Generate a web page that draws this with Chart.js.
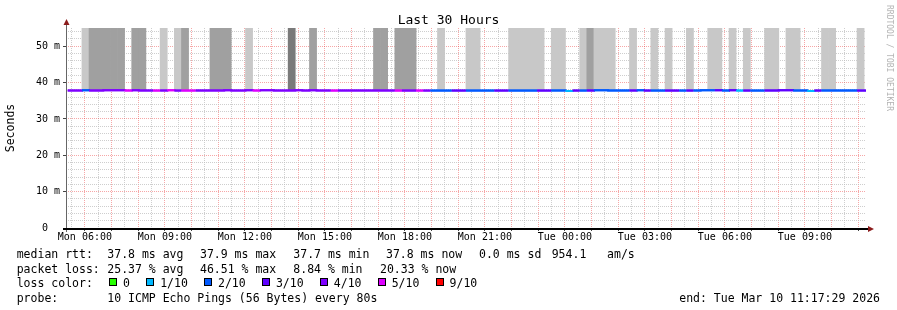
<!DOCTYPE html>
<html>
<head>
<meta charset="utf-8">
<script src="https://cdn.jsdelivr.net/npm/chart.js@4/dist/chart.umd.min.js"></script>
<style>
  html, body { margin: 0; padding: 0; background: #fff; }
  #wrap { position: relative; width: 897px; height: 310px; overflow: hidden;
          font-family: 'DejaVu Sans Mono', monospace; color: #000; }
  canvas { position: absolute; left: 0; top: 0; }
  #title { position: absolute; left: 0; top: 11.5px; width: 897px; text-align: center;
           font-size: 13px; line-height: 16px; white-space: pre; }
  #wm { position: absolute; left: 893px; top: 5px; transform: rotate(90deg); transform-origin: 0 0;
        font-size: 8px; line-height: 8px; color: #b4b4b4; white-space: pre; }
  .lg { position: absolute; font-size: 11.5px; line-height: 14px; white-space: pre; }
  .lc { position: absolute; display: flex; align-items: flex-start; }
  .lc .box { box-sizing: border-box; width: 8px; height: 8px; border: 1px solid #000;
             margin-top: 2.2px; margin-right: 6px; }
  .lc .lab { font-size: 11.5px; line-height: 14px; white-space: pre; margin-right: 16.2px; }
</style>
</head>
<body>
<div id="wrap">
  <canvas id="c" width="897" height="310"></canvas>
  <div id="title"></div>
  <div id="wm"></div>
</div>
<script>
// ---------------- data ----------------
const TITLE = 'Last 30 Hours';
const Y_TITLE = 'Seconds';
const WATERMARK = 'RRDTOOL / TOBI OETIKER';

// time axis (minutes since Mon 00:00)
const endMinute = (24 + 11) * 60 + 17 + 29 / 60;   // Tue 11:17:29
const spanMinutes = 30 * 60;                          // last 30 hours
const xTickHours  = [6, 9, 12, 15, 18, 21, 24, 27, 30, 33];
const xTickLabels = ['Mon 06:00', 'Mon 09:00', 'Mon 12:00', 'Mon 15:00', 'Mon 18:00',
                     'Mon 21:00', 'Tue 00:00', 'Tue 03:00', 'Tue 06:00', 'Tue 09:00'];

// y axis (ms)
const yMax = 55;
const yTickValues = [0, 10, 20, 30, 40, 50];
const yTickLabels = ['0  ', '10 m', '20 m', '30 m', '40 m', '50 m'];

// samples: 16-minute consolidated steps
const firstSampleMinute = 321.3;
const sampleMinutes = 16;

// median RTT per sample (ms)
const medianRtt = [
  37.8,37.8,37.9,37.8,37.8,37.9,37.9,37.9,37.8,37.9,
  37.8,37.8,37.8,37.8,37.9,37.8,37.8,37.8,37.8,37.8,
  37.8,37.8,37.9,37.8,37.8,37.9,37.8,37.9,37.9,37.8,
  37.8,37.8,37.9,37.8,37.9,37.8,37.8,37.8,37.8,37.8,
  37.8,37.8,37.8,37.8,37.8,37.8,37.8,37.8,37.8,37.8,
  37.8,37.8,37.8,37.8,37.8,37.8,37.8,37.8,37.8,37.8,
  37.8,37.8,37.8,37.8,37.8,37.8,37.8,37.8,37.8,37.8,
  37.7,37.8,37.8,37.8,37.9,37.9,37.8,37.8,37.8,37.8,
  37.9,37.8,37.8,37.8,37.8,37.8,37.8,37.8,37.8,37.9,
  37.9,37.9,37.8,37.9,37.8,37.8,37.8,37.8,37.8,37.8,
  37.9,37.9,37.8,37.8,37.7,37.8,37.8,37.8,37.8,37.8,
  37.8,37.8,37.8
];

// smoke density per sample: 0 none, 1 light, 2 medium, 3 dark
const smokeShade = [
  0,0,1,2,2,2,2,2,0,2,
  2,0,0,1,0,1,2,0,0,0,
  2,2,2,0,0,1,0,0,0,0,
  0,3,0,0,2,0,0,0,0,0,
  0,0,0,2,2,0,2,2,2,0,
  0,0,1,0,0,0,1,1,0,0,
  0,0,1,1,1,1,1,0,1,1,
  0,0,1,2,1,1,1,0,0,1,
  0,0,1,0,1,0,0,1,0,0,
  1,1,0,1,0,1,0,0,1,1,
  0,1,1,0,0,0,1,1,0,0,
  0,1,0
];

// loss level per sample (index into lossLabels / lossColors)
const lossLevel = [
  4,4,2,4,4,4,4,4,5,4,
  4,4,5,4,5,4,5,5,4,4,
  4,4,4,4,4,4,5,4,4,4,
  4,4,4,4,4,4,4,5,4,4,
  4,4,4,4,4,4,5,4,4,5,
  4,2,2,2,3,3,2,2,2,2,
  3,3,2,2,2,2,3,3,2,2,
  1,3,2,3,2,2,2,2,2,3,
  2,3,2,2,3,3,2,3,2,2,
  2,3,2,3,1,3,2,2,3,3,
  3,3,2,2,1,3,2,2,2,2,
  2,3,3
];

const lossLabels = ['0', '1/10', '2/10', '3/10', '4/10', '5/10', '9/10'];
const lossColors = ['#26ff00', '#00b8ff', '#0059ff', '#5e00ff', '#7e00ff', '#dd00ff', '#ff0000'];
const smokeColors = ['rgba(0,0,0,0)', '#c8c8c8', '#a0a0a0', '#7a7a7a'];

const statsRtt  = ['median rtt:', '37.8 ms avg', '37.9 ms max', '37.7 ms min', '37.8 ms now', '0.0 ms sd', '954.1   am/s'];
const statsLoss = ['packet loss:', '25.37 % avg', '46.51 % max', '8.84 % min', '20.33 % now'];
const lossColorTitle = 'loss color:';
const probeText = ['probe:', '10 ICMP Echo Pings (56 Bytes) every 80s'];
const endText = 'end: Tue Mar 10 11:17:29 2026';

// ---------------- layout ----------------
const FONT = "'DejaVu Sans Mono', monospace";
const startMinute = endMinute - spanMinutes;
const rowTops = [247.3, 261.8, 276.3, 290.8];
const rttCols = [16.7, 107.3, 200, 293.3, 386, 479, 551.7];
const lossCols = [16.7, 107.3, 200, 293.3, 380];
const probeCols = [16.7, 107.3];

const wrap = document.getElementById('wrap');
document.getElementById('title').textContent = TITLE;
document.getElementById('wm').textContent = WATERMARK;

function addText(txt, left, top, extra) {
  const d = document.createElement('div');
  d.className = 'lg';
  d.textContent = txt;
  d.style.left = left + 'px';
  d.style.top = top + 'px';
  if (extra) Object.assign(d.style, extra);
  wrap.appendChild(d);
  return d;
}
statsRtt.forEach((t, i) => addText(t, rttCols[i], rowTops[0]));
statsLoss.forEach((t, i) => addText(t, lossCols[i], rowTops[1]));
addText(lossColorTitle, 16.7, rowTops[2]);
const lc = document.createElement('div');
lc.className = 'lc';
lc.style.left = '109px';
lc.style.top = rowTops[2] + 'px';
lossLabels.forEach((lab, i) => {
  const b = document.createElement('div');
  b.className = 'box';
  b.style.background = lossColors[i];
  const l = document.createElement('div');
  l.className = 'lab';
  l.textContent = lab;
  lc.appendChild(b); lc.appendChild(l);
});
wrap.appendChild(lc);
probeText.forEach((t, i) => addText(t, probeCols[i], rowTops[3]));
addText(endText, 0, rowTops[3], { left: 'auto', right: '17px' });

// ---------------- chart data ----------------
const sampleTimes = medianRtt.map((_, k) => firstSampleMinute + k * sampleMinutes);
const smokeData = [], smokeBg = [];
smokeShade.forEach((s, k) => {
  if (s > 0) {
    smokeData.push({ x: sampleTimes[k] + sampleMinutes / 2, y: [medianRtt[k], yMax] });
    smokeBg.push(smokeColors[s]);
  }
});
const lineData = sampleTimes.map((t, k) => ({ x: t, y: medianRtt[k] }));
lineData.push({ x: sampleTimes[sampleTimes.length - 1] + sampleMinutes, y: medianRtt[medianRtt.length - 1] });

const halfHourTicks = [];
for (let m = Math.ceil(startMinute / 30) * 30; m <= endMinute; m += 30) halfHourTicks.push(m);
const yGridTicks = [];
for (let v = 0; v < yMax; v += 2) yGridTicks.push(v);

const RED = 'rgba(235,60,60,0.45)';
const GRAY = 'rgba(190,190,190,0.75)';
const CLEAR = 'rgba(0,0,0,0)';

const overlay = {
  id: 'overlay',
  afterDraw(chart) {
    const { ctx, chartArea: a } = chart;
    // median line above the grid
    ctx.save();
    ctx.beginPath();
    ctx.rect(a.left, a.top, a.right - a.left, a.bottom - a.top + 1);
    ctx.clip();
    chart.getDatasetMeta(1).controller.draw();
    ctx.restore();
    ctx.save();
    // y axis
    ctx.fillStyle = '#666';
    ctx.fillRect(a.left, a.top - 6, 1, a.bottom - a.top + 10);
    // x axis
    ctx.fillStyle = '#000';
    ctx.fillRect(a.left - 3, a.bottom, a.right - a.left + 5, 2);
    // arrows
    ctx.fillStyle = '#8b1c1c';
    ctx.beginPath();
    ctx.moveTo(a.left + 0.5, a.top - 9);
    ctx.lineTo(a.left + 3.5, a.top - 3);
    ctx.lineTo(a.left - 2.5, a.top - 3);
    ctx.closePath(); ctx.fill();
    ctx.beginPath();
    ctx.moveTo(a.right + 8, a.bottom + 1);
    ctx.lineTo(a.right + 2, a.bottom - 2);
    ctx.lineTo(a.right + 2, a.bottom + 4);
    ctx.closePath(); ctx.fill();
    ctx.restore();
  }
};

new Chart(document.getElementById('c'), {
  type: 'bar',
  data: {
    datasets: [
      {
        type: 'bar',
        data: smokeData,
        backgroundColor: smokeBg,
        borderWidth: 0,
        categoryPercentage: 1,
        barPercentage: 1,
        order: 2
      },
      {
        type: 'line',
        data: lineData,
        stepped: true,
        borderWidth: 2,
        borderCapStyle: 'butt',
        pointRadius: 0,
        fill: false,
        order: 1,
        segment: {
          borderColor: ctx => lossColors[lossLevel[Math.min(ctx.p0DataIndex, lossLevel.length - 1)]]
        }
      }
    ]
  },
  options: {
    responsive: false,
    animation: false,
    devicePixelRatio: 1,
    events: [],
    layout: { padding: { top: 28, left: 0, right: 31, bottom: 0 } },
    plugins: { legend: { display: false }, tooltip: { enabled: false }, title: { display: false } },
    scales: {
      x: {
        type: 'linear',
        min: startMinute,
        max: endMinute,
        offset: false,
        z: 1,
        afterBuildTicks: ax => { ax.ticks = halfHourTicks.map(v => ({ value: v })); },
        afterFit: ax => { ax.height = 82; },
        grid: {
          offset: false,
          lineWidth: 1,
          drawTicks: true,
          tickLength: 3,
          color: c => (c.tick && c.tick.value % 60 === 0) ? RED : GRAY,
          tickColor: c => (c.tick && c.tick.value % 60 === 0) ? '#444' : CLEAR
        },
        border: { display: false, dash: [1, 1] },
        ticks: {
          autoSkip: false,
          maxRotation: 0,
          minRotation: 0,
          padding: 0,
          color: '#000',
          font: { family: FONT, size: 10 },
          callback: v => { const i = xTickHours.indexOf(v / 60); return i >= 0 ? xTickLabels[i] : ''; }
        }
      },
      y: {
        type: 'linear',
        min: 0,
        max: yMax,
        z: 1,
        afterBuildTicks: ax => { ax.ticks = yGridTicks.map(v => ({ value: v })); },
        afterFit: ax => { ax.width = 66; },
        grid: {
          lineWidth: 1,
          drawTicks: true,
          tickLength: 3,
          color: c => {
            if (!c.tick) return GRAY;
            if (c.tick.value === 0) return CLEAR;
            return c.tick.value % 10 === 0 ? RED : GRAY;
          },
          tickColor: c => (c.tick && c.tick.value % 10 === 0) ? '#444' : CLEAR
        },
        border: { display: false, dash: [1, 1] },
        ticks: {
          autoSkip: false,
          padding: 3,
          color: '#000',
          font: { family: FONT, size: 10 },
          callback: v => { const i = yTickValues.indexOf(v); return i >= 0 ? yTickLabels[i] : ''; }
        },
        title: {
          display: true,
          text: Y_TITLE,
          color: '#000',
          font: { family: FONT, size: 11.5, lineHeight: 1 },
          padding: { top: 5, bottom: 0 }
        }
      }
    }
  },
  plugins: [overlay]
});
</script>
</body>
</html>
